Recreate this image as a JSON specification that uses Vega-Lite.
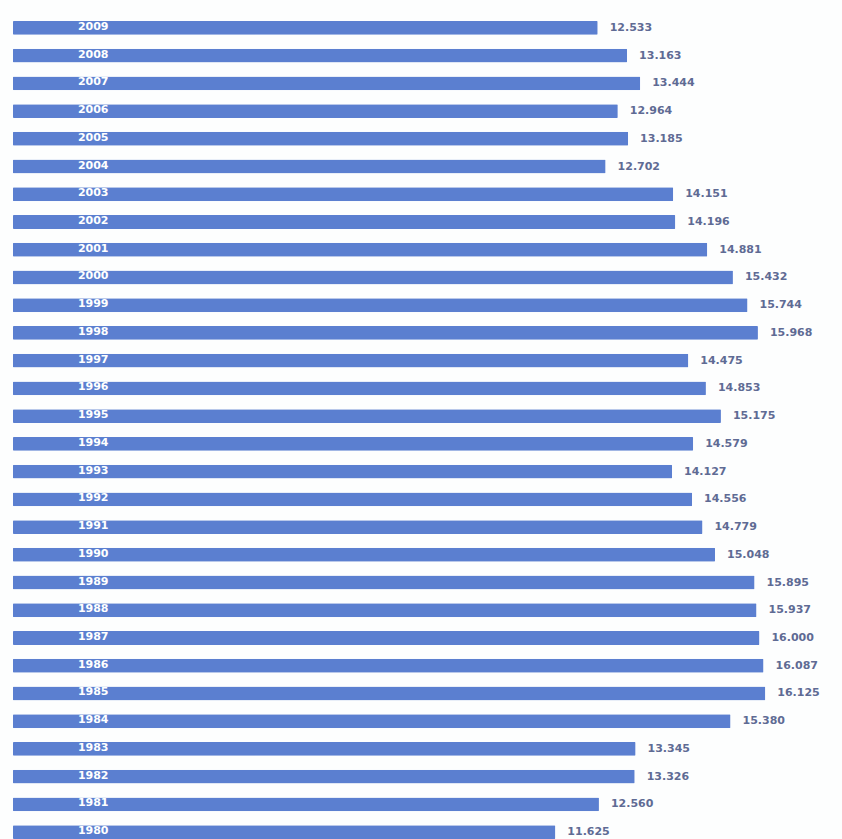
{
  "$schema": "https://vega.github.io/schema/vega-lite/v6.json",
  "width": 829,
  "height": 832,
  "autosize": "none",
  "padding": {"left": 13, "top": 14, "right": 0, "bottom": 0},
  "background": "#fdfefe",
  "config": {"view": {"stroke": null}, "font": "DejaVu Sans"},
  "data": {
    "values": [
      {"year": "2009", "value": 12.533},
      {"year": "2008", "value": 13.163},
      {"year": "2007", "value": 13.444},
      {"year": "2006", "value": 12.964},
      {"year": "2005", "value": 13.185},
      {"year": "2004", "value": 12.702},
      {"year": "2003", "value": 14.151},
      {"year": "2002", "value": 14.196},
      {"year": "2001", "value": 14.881},
      {"year": "2000", "value": 15.432},
      {"year": "1999", "value": 15.744},
      {"year": "1998", "value": 15.968},
      {"year": "1997", "value": 14.475},
      {"year": "1996", "value": 14.853},
      {"year": "1995", "value": 15.175},
      {"year": "1994", "value": 14.579},
      {"year": "1993", "value": 14.127},
      {"year": "1992", "value": 14.556},
      {"year": "1991", "value": 14.779},
      {"year": "1990", "value": 15.048},
      {"year": "1989", "value": 15.895},
      {"year": "1988", "value": 15.937},
      {"year": "1987", "value": 16.000},
      {"year": "1986", "value": 16.087},
      {"year": "1985", "value": 16.125},
      {"year": "1984", "value": 15.380},
      {"year": "1983", "value": 13.345},
      {"year": "1982", "value": 13.326},
      {"year": "1981", "value": 12.560},
      {"year": "1980", "value": 11.625}
    ]
  },
  "encoding": {
    "y": {
      "field": "year",
      "type": "nominal",
      "sort": null,
      "scale": {"paddingInner": 0.5, "paddingOuter": 0.25},
      "axis": {
        "title": null,
        "domain": false,
        "ticks": false,
        "labelPadding": -95,
        "labelAlign": "right",
        "labelColor": "#ffffff",
        "labelFontSize": 11,
        "labelFontWeight": "bold",
        "labelOffset": -1,
        "zindex": 1
      }
    },
    "x": {
      "field": "value",
      "type": "quantitative",
      "scale": {"domain": [0, 17.77], "nice": false},
      "axis": null
    }
  },
  "layer": [
    {
      "mark": {"type": "bar", "color": "#5b7fd0", "cornerRadius": 1}
    },
    {
      "mark": {
        "type": "text",
        "align": "left",
        "dx": 12,
        "fontSize": 11,
        "fontWeight": "bold",
        "color": "#5f6b94"
      },
      "encoding": {
        "text": {"field": "value", "type": "quantitative", "format": ".3f"}
      }
    }
  ]
}
